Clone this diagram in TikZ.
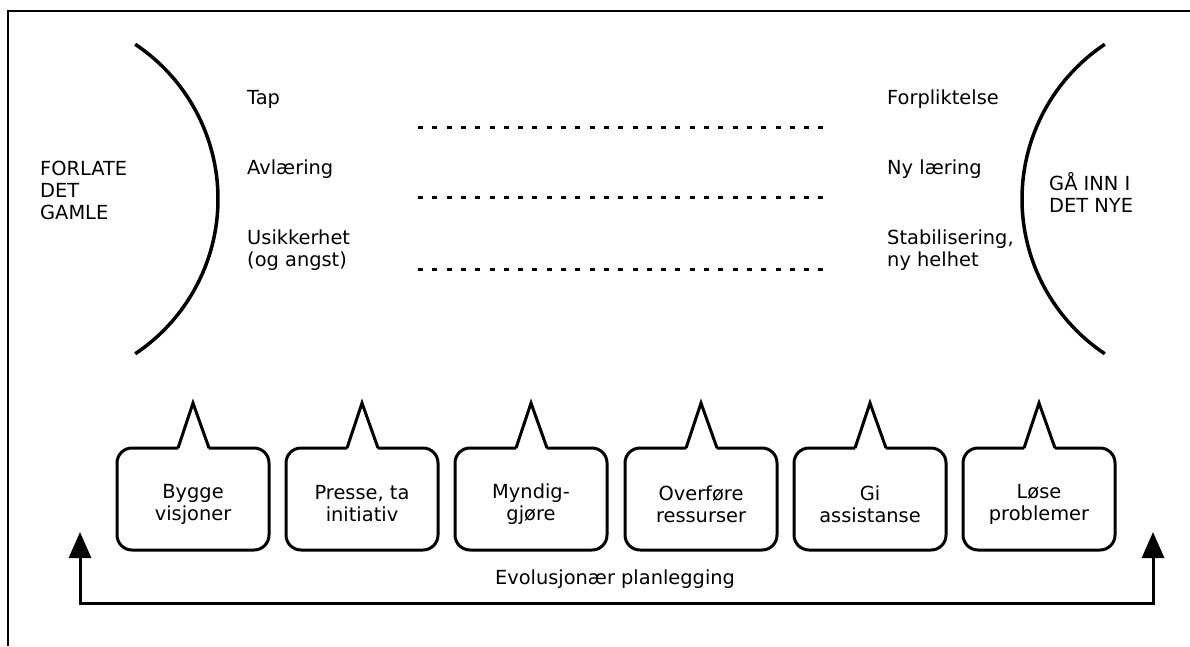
\documentclass[tikz,border=0pt]{standalone}
\usepackage{fontspec}
\setmainfont{DejaVu Sans}
\usetikzlibrary{arrows.meta}
\newcommand\mycallout[3]{%
  \node[box] (#1) at (#2,147) {};
  \node[boxtxt] (#1t) at (#2,142) {#3};
  \fill[white] (#2-15,196) -- (#2,243) -- (#2+16,196) -- cycle;
  \draw[ptr] (#2-15,198) -- (#2,243) -- (#2+16,198);
}
\begin{document}
\begin{tikzpicture}[x=1pt,y=1pt,font=\fontsize{19.4}{22}\selectfont,
  lbl/.style={anchor=base west,inner sep=0pt,align=left},
  arcline/.style={line width=3.5pt},
  dots/.style={line width=3pt,dash pattern=on 5pt off 9.3pt},
  box/.style={draw,line width=3pt,rounded corners=15pt,minimum width=152pt,minimum height=102pt,inner sep=0pt},
  boxtxt/.style={align=center,inner sep=0pt},
  ptr/.style={line width=3pt,line join=miter},
  frame/.style={line width=1.3pt},
  loopline/.style={line width=3pt,{Triangle[width=22pt,length=26pt]}-{Triangle[width=22pt,length=26pt]}}]
\useasboundingbox (0,0) rectangle (1190,646);
% frame
\coordinate (fb) at (8,0);
\coordinate (ftl) at (8,635);
\coordinate (ftr) at (1190,635);
\draw[frame] (fb) -- (ftl) -- (ftr);
% arcs
\draw[arcline] (135.2,601.7) arc[start angle=56.3,end angle=-56.3,radius=186];
\draw[arcline] (1104.8,601.7) arc[start angle=123.7,end angle=236.3,radius=186];
% side labels (base anchor = last line)
\node[lbl] (old) at (40,426) {FORLATE\\DET\\GAMLE};
\node[lbl] (new) at (1049,433) {GÅ INN I\\DET NYE};
% left column
\node[lbl] (l1) at (247,541) {Tap};
\node[lbl] (l2) at (247,471) {Avlæring};
\node[lbl] (l3) at (247,379) {Usikkerhet\\(og angst)};
% right column
\node[lbl] (r1) at (887,541) {Forpliktelse};
\node[lbl] (r2) at (887,471) {Ny læring};
\node[lbl] (r3) at (887,379) {Stabilisering,\\ny helhet};
% dotted lines
\coordinate (d1a) at (418,518); \coordinate (d1b) at (826,518);
\coordinate (d2a) at (418,448); \coordinate (d2b) at (826,448);
\coordinate (d3a) at (418,376); \coordinate (d3b) at (826,376);
\draw[dots] (d1a) -- (d1b);
\draw[dots] (d2a) -- (d2b);
\draw[dots] (d3a) -- (d3b);
% callouts
\mycallout{b1}{193}{Bygge\\visjoner}
\mycallout{b2}{362}{Presse, ta\\initiativ}
\mycallout{b3}{531}{Myndig-\\gjøre}
\mycallout{b4}{701}{Overføre\\ressurser}
\mycallout{b5}{870}{Gi\\assistanse}
\mycallout{b6}{1039}{Løse\\problemer}
% evolution loop
\coordinate (at1) at (80,114);
\coordinate (ac1) at (80,43);
\coordinate (ac2) at (1153,43);
\coordinate (at2) at (1153,114);
\draw[loopline] (at1) -- (ac1) -- (ac2) -- (at2);
\node[anchor=base,inner sep=0pt] (evo) at (615,62) {Evolusjonær planlegging};
\end{tikzpicture}
\end{document}
